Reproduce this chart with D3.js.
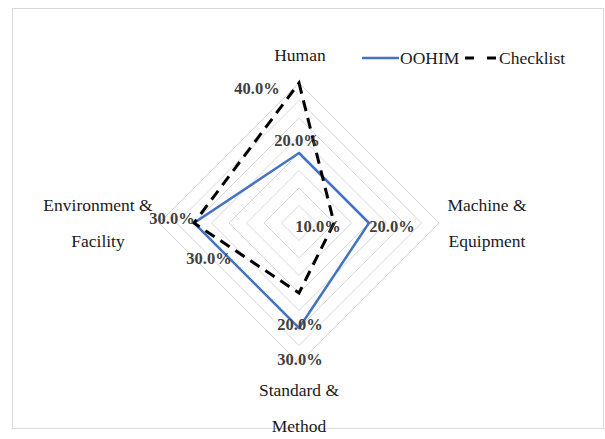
<!DOCTYPE html>
<html>
<head>
<meta charset="utf-8">
<script src="https://cdn.jsdelivr.net/npm/d3@7"></script>
<style>
  body { margin: 0; background: #fff; }
</style>
</head>
<body>
<div id="chart"></div>
<script>
const categories = [["Human"], ["Machine &", "Equipment"], ["Standard &", "Method"], ["Environment &", "Facility"]];
const seriesNames = ["OOHIM", "Checklist"];
const oohim = [0.20, 0.20, 0.30, 0.30];
const checklist = [0.40, 0.10, 0.20, 0.30];
const ringValues = [0.05, 0.10, 0.15, 0.20, 0.25, 0.30, 0.35, 0.40];

const width = 605, height = 439;
const cx = 299, cy = 223, radius = 140;
const serif = "'Liberation Serif', 'Times New Roman', serif";

// data label nudges (px) per series, per category
const labelNudge = {
  OOHIM:     [[-2, -13], [23, 3], [1, 31], [15, 35]],
  Checklist: [[-42, 5], [-16, 3], [1, 31], [-22, -5]]
};
// category label centres relative to the outer ring vertex
const catNudge = [[1, -28], [48, -18], [0, 0], [-61, -18]];

const svg = d3.select("#chart").append("svg")
    .attr("width", width)
    .attr("height", height)
    .attr("font-family", serif);

svg.append("rect")
    .attr("x", 12.5).attr("y", 8.5)
    .attr("width", 591).attr("height", 420)
    .attr("fill", "#fff")
    .attr("stroke", "#d9d9d9");

const g = svg.append("g").attr("transform", "translate(" + cx + "," + cy + ")");

const r = d3.scaleLinear().domain([0, 0.4]).range([0, radius]);
const angle = d3.scaleLinear().domain([0, categories.length]).range([0, 2 * Math.PI]);

const radial = d3.lineRadial()
    .angle((d, i) => angle(i))
    .radius(d => r(d))
    .curve(d3.curveLinearClosed);

// grid rings
g.selectAll(".ring")
  .data(ringValues)
  .enter().append("path")
    .attr("class", "ring")
    .attr("d", v => radial(categories.map(() => v)))
    .attr("fill", "none")
    .attr("stroke", "#d9d9d9")
    .attr("stroke-width", 1);

const pt = (v, i) => [r(v) * Math.sin(angle(i)), -r(v) * Math.cos(angle(i))];

// series
g.append("path")
    .attr("d", radial(oohim))
    .attr("fill", "none")
    .attr("stroke", "#4472c4")
    .attr("stroke-width", 2.5);

g.append("path")
    .attr("d", radial(checklist))
    .attr("fill", "none")
    .attr("stroke", "#000")
    .attr("stroke-width", 3)
    .attr("stroke-dasharray", "11,7");

// data labels
[["OOHIM", oohim], ["Checklist", checklist]].forEach(([name, vals]) => {
  g.selectAll(".lbl-" + name)
    .data(vals)
    .enter().append("text")
      .attr("x", (d, i) => pt(d, i)[0] + labelNudge[name][i][0])
      .attr("y", (d, i) => pt(d, i)[1] + labelNudge[name][i][1])
      .attr("dy", "0.35em")
      .attr("text-anchor", "middle")
      .attr("font-size", 16.5)
      .attr("font-weight", "bold")
      .attr("fill", "#404040")
      .text(d => d3.format(".1%")(d));
});

// category labels
categories.forEach((lines, i) => {
  const p = pt(0.4, i);
  let x = p[0] + catNudge[i][0], y = p[1] + catNudge[i][1];
  if (i === 2) y = 167;
  const t = g.append("text")
      .attr("text-anchor", "middle")
      .attr("font-size", 17.5)
      .attr("fill", "#1a1a1a");
  lines.forEach((s, k) => {
    t.append("tspan")
      .attr("x", x)
      .attr("y", y + k * 36)
      .attr("dy", "0.35em")
      .text(s);
  });
});

// legend
const legend = svg.append("g");
legend.append("line")
    .attr("x1", 362).attr("x2", 399).attr("y1", 58).attr("y2", 58)
    .attr("stroke", "#4472c4").attr("stroke-width", 2.5);
legend.append("text")
    .attr("x", 400).attr("y", 58).attr("dy", "0.35em")
    .attr("font-size", 17.5).attr("fill", "#1a1a1a")
    .text(seriesNames[0]);
legend.append("line")
    .attr("x1", 465).attr("x2", 497).attr("y1", 58).attr("y2", 58)
    .attr("stroke", "#000").attr("stroke-width", 3)
    .attr("stroke-dasharray", "9,13");
legend.append("text")
    .attr("x", 499).attr("y", 58).attr("dy", "0.35em")
    .attr("font-size", 17.5).attr("fill", "#1a1a1a")
    .text(seriesNames[1]);
</script>
</body>
</html>
